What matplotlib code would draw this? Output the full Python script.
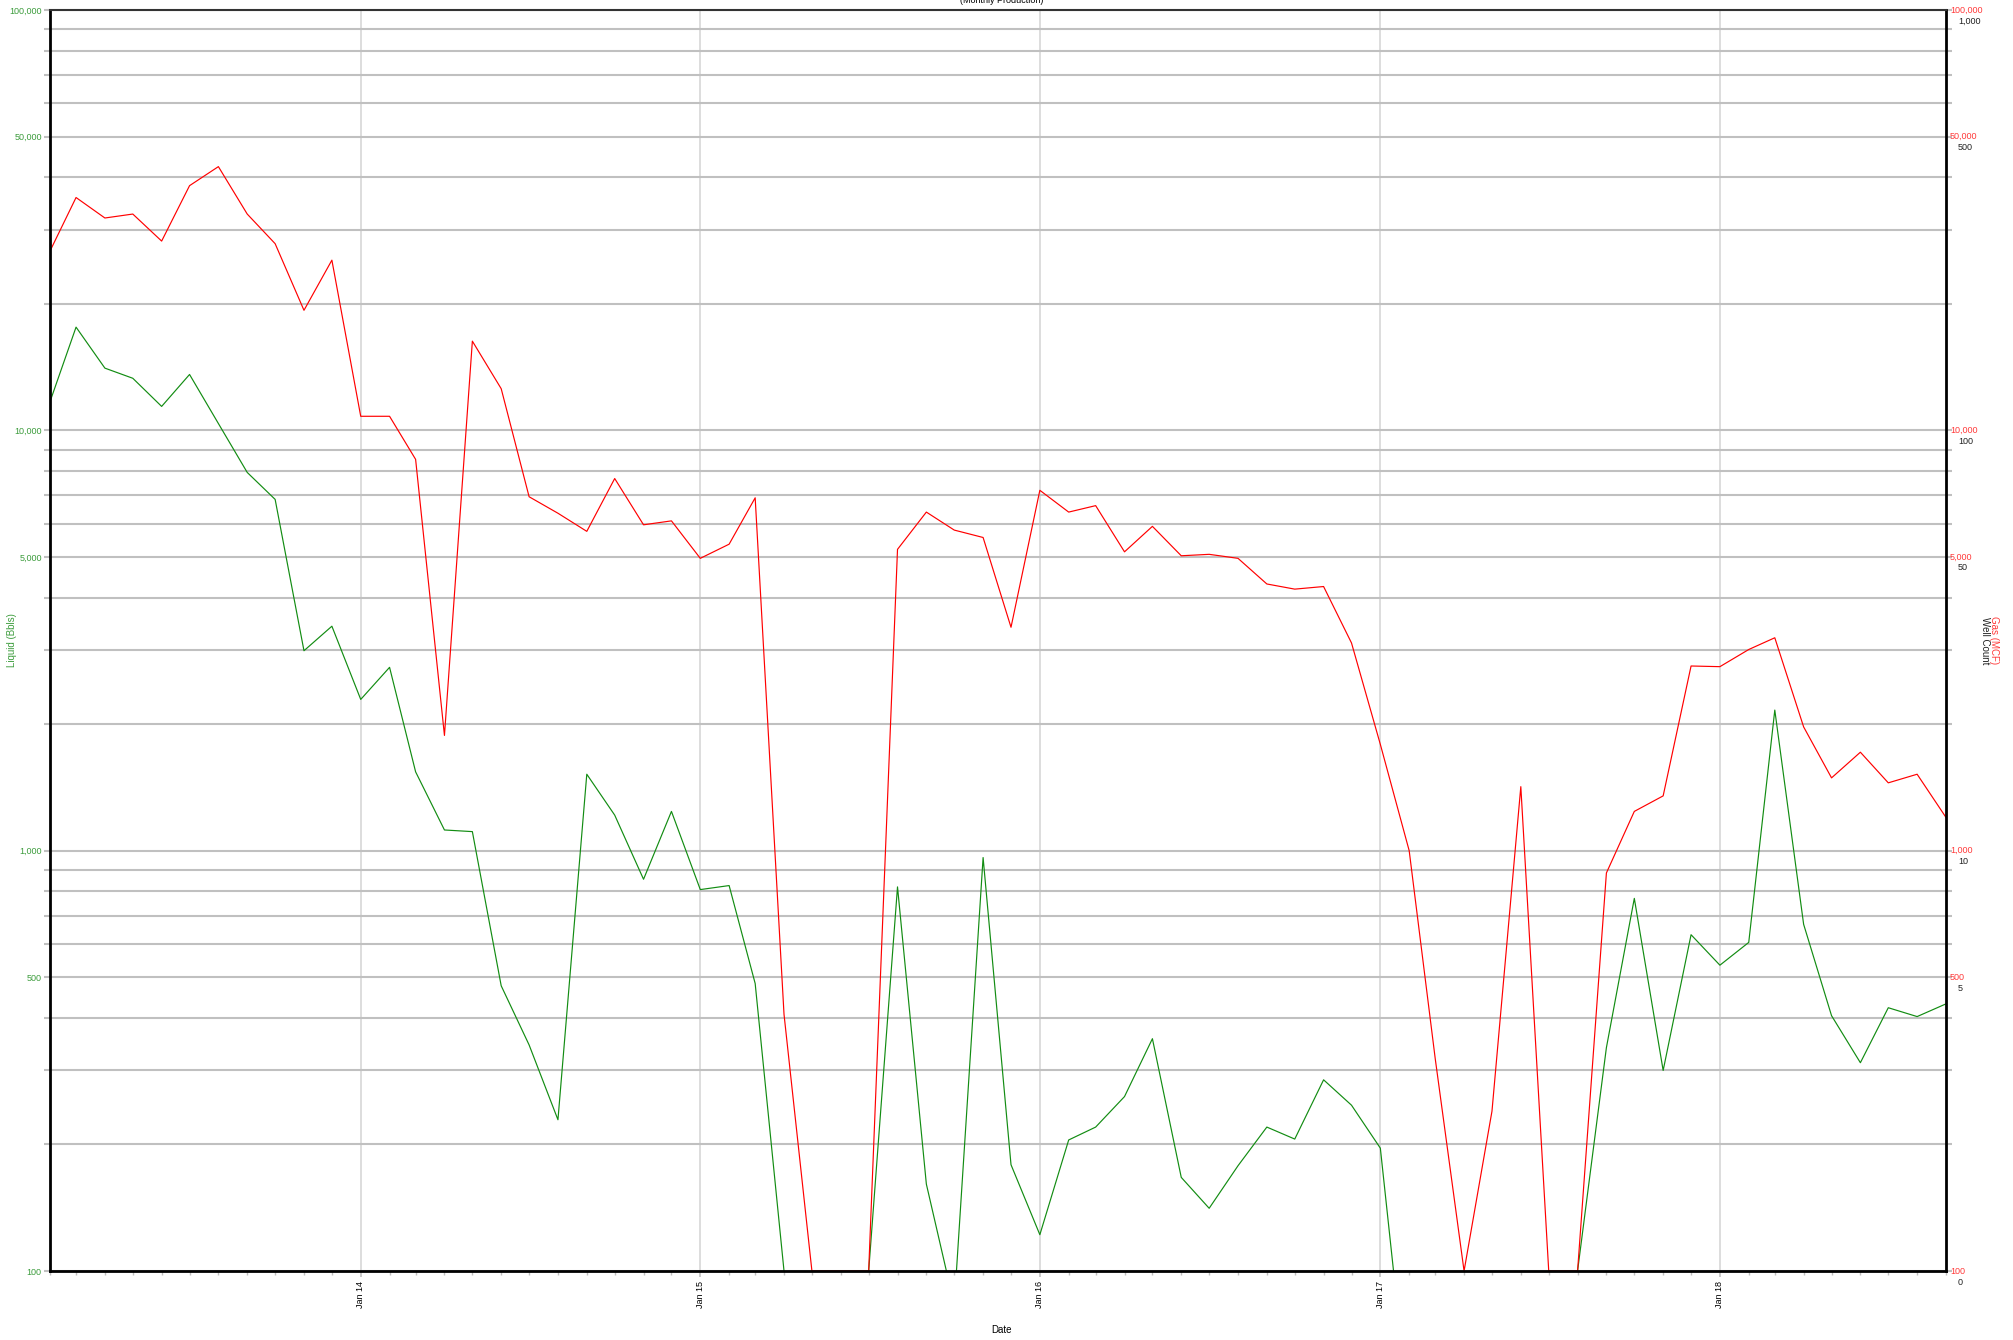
import matplotlib
matplotlib.use('Agg')
import matplotlib.pyplot as plt
import matplotlib.dates as mdates
import matplotlib.transforms as mtransforms
from matplotlib.ticker import NullFormatter
import pandas as pd

plt.rcParams['font.family'] = ['Liberation Sans', 'DejaVu Sans']

# monthly dates, Feb 2013 .. Sep 2018
months = pd.date_range('2013-02-01', periods=68, freq='MS')

liquid = [11700, 17600, 14060, 13300, 11400, 13580, 10380, 7940, 6850, 2990, 3420,
          2290, 2730, 1540, 1120, 1110, 477, 345, 229, 1520, 1215, 855, 1240,
          808, 826, 483, 100, 60, 60, 100, 820, 161, 83, 963, 179,
          122, 205, 220, 260, 357, 167, 141, 178, 220, 206, 285, 248,
          196, 45, 45, 45, 45, 45, 45, 100, 340, 770, 300, 631,
          534, 605, 2160, 668, 405, 313, 423, 403, 432]

gas = [26700, 35800, 32000, 32700, 28200, 38200, 42400, 32700, 27800, 19300, 25400,
       10800, 10800, 8530, 1880, 16300, 12560, 6950, 6350, 5750, 7680, 5960, 6090,
       4960, 5360, 6910, 408, 100, 100, 100, 5210, 6390, 5790, 5560, 3400,
       7200, 6390, 6620, 5140, 5910, 5030, 5070, 4960, 4310, 4190, 4250, 3120,
       1790, 1000, 320, 100, 240, 1420, 100, 100, 885, 1240, 1350, 2750,
       2740, 3010, 3210, 1970, 1490, 1715, 1450, 1520, 1200]

major_ticks = [100, 500, 1000, 5000, 10000, 50000, 100000]
minor_ticks = [m * d for d in (100, 1000, 10000) for m in range(2, 10) if m != 5]
well_labels = ['0', '5', '10', '50', '100', '500', '1,000']

GREEN = '#128c12'
GREEN_TXT = '#3c9c3c'
RED = '#ff0000'
RED_TXT = '#ff3a3a'
GRID = '#c0c0c0'

fig = plt.figure(figsize=(20.13, 13.40), dpi=100)
ax = fig.add_axes([0.02484, 0.05149, 0.94186, 0.94105])

ax.plot(months, liquid, color=GREEN, lw=0.85)
ax.plot(months, gas, color=RED, lw=0.85)

ax.set_yscale('log')
ax.set_ylim(100, 100000)
ax.set_xlim(months[0], months[-1])

ax.set_yticks(major_ticks)
ax.set_yticklabels([f'{v:,}' for v in major_ticks])
ax.set_yticks(minor_ticks, minor=True)
ax.yaxis.set_minor_formatter(NullFormatter())
ax.tick_params(axis='y', which='both', direction='out', length=4, width=1.5,
               color=GRID, left=True, right=True, labelleft=True, labelright=False,
               labelcolor=GREEN_TXT, labelsize=6.5, pad=2)
ax.grid(axis='y', which='both', color=GRID, lw=1.5)

ax.xaxis.set_major_locator(mdates.YearLocator())
ax.xaxis.set_major_formatter(mdates.DateFormatter('%b %y'))
ax.xaxis.set_minor_locator(mdates.MonthLocator())
ax.tick_params(axis='x', which='major', direction='out', length=4, width=1.2,
               color=GRID, labelsize=6.5, labelrotation=90, pad=3)
ax.tick_params(axis='x', which='minor', direction='out', length=3, width=1.0, color=GRID)
ax.grid(axis='x', which='major', color='#dadada', lw=1.3)
ax.set_axisbelow(True)

for side in ('left', 'right', 'bottom'):
    ax.spines[side].set_color('black')
    ax.spines[side].set_linewidth(2.0)
ax.spines['top'].set_color('#333333')
ax.spines['top'].set_linewidth(1.5)

# right side labels: gas (red) and well count (black)
tr_gas = mtransforms.offset_copy(ax.get_yaxis_transform(), fig=fig, x=4, y=0, units='dots')
tr_well = mtransforms.offset_copy(ax.get_yaxis_transform(), fig=fig, x=12, y=-11, units='dots')
for v, wl in zip(major_ticks, well_labels):
    ax.text(1, v, f'{v:,}', transform=tr_gas, color=RED_TXT, fontsize=6.5,
            ha='left', va='center', clip_on=False)
    ax.text(1, v, wl, transform=tr_well, color='#222222', fontsize=6.5,
            ha='left', va='center', clip_on=False)

fig.text(0.006, 0.522, 'Liquid (Bbls)', rotation=90, color=GREEN_TXT,
         fontsize=7, ha='center', va='center')
fig.text(0.9905, 0.522, 'Gas (MCF)', rotation=270, color=RED_TXT,
         fontsize=7, ha='center', va='center')
fig.text(0.9862, 0.522, 'Well Count', rotation=270, color='#222222',
         fontsize=7, ha='center', va='center')
fig.text(0.4975, 0.0075, 'Date', fontsize=7, ha='center', va='center')
fig.text(0.4975, 0.9995, '(Monthly Production)', fontsize=6.5, ha='center', va='center')

fig.savefig('out.png', dpi=100, facecolor='white')
